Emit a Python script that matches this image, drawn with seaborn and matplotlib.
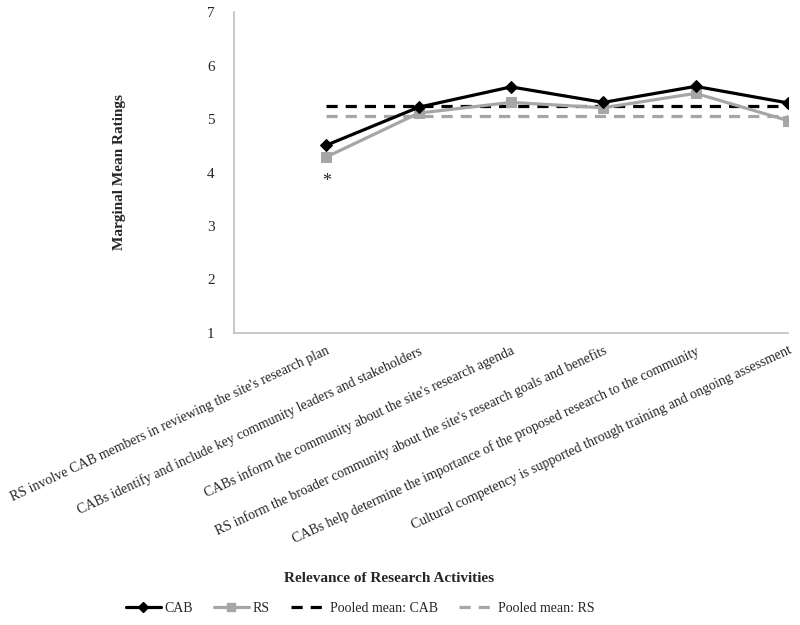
import numpy as np
import pandas as pd
import matplotlib
matplotlib.use("Agg")
import matplotlib.pyplot as plt
import seaborn as sns
from matplotlib.lines import Line2D

categories = [
    "RS involve CAB members in reviewing the site's research plan",
    "CABs identify and include key community leaders and stakeholders",
    "CABs inform the community about the site's research agenda",
    "RS inform the broader community about the site's research goals and benefits",
    "CABs help determine the importance of the proposed research to the community",
    "Cultural competency is supported through training and ongoing assessment",
]
cab_values = [4.51, 5.22, 5.60, 5.31, 5.61, 5.30]
rs_values = [4.29, 5.11, 5.31, 5.21, 5.48, 4.97]
pooled_cab = 5.25
pooled_rs = 5.06
y_ticks = [1, 2, 3, 4, 5, 6, 7]

sns.set_style("white")
plt.rcParams['font.family'] = ['Liberation Serif', 'DejaVu Serif']

fig = plt.figure(figsize=(8, 6.25), dpi=100)
ax = fig.add_axes([0.2925, 0.4672, 0.6925, 0.5136])

pos = np.arange(1, len(categories) + 1)
df = pd.DataFrame({"pos": pos, "CAB": cab_values, "RS": rs_values})

black = "#000000"
grey = "#A6A6A6"

ax.plot([pos[0], pos[-1]], [pooled_cab, pooled_cab], color=black, lw=2.3, ls=(0, (3.5, 2.5)), zorder=2)
ax.plot([pos[0], pos[-1]], [pooled_rs, pooled_rs], color=grey, lw=2.3, ls=(0, (3.5, 2.5)), zorder=2)

sns.lineplot(data=df, x="pos", y="RS", ax=ax, color=grey, lw=2.3, marker="s",
             markersize=7, markeredgecolor=grey, zorder=3)
sns.lineplot(data=df, x="pos", y="CAB", ax=ax, color=black, lw=2.3, marker="D",
             markersize=6, markeredgecolor=black, zorder=4)

ax.text(pos[0], rs_values[0] - 0.45, "*", ha="center", va="center", fontsize=13)

ax.set_xlim(0, len(categories))
ax.set_ylim(1, 7)
ax.set_yticks(y_ticks)
ax.set_yticklabels([str(t) for t in y_ticks], fontsize=11)
ax.set_xticks(pos)
ax.set_xticklabels(categories, rotation=25, ha="right", rotation_mode="anchor", fontsize=10)
ax.tick_params(axis="x", length=4, width=1, color="#BFBFBF", direction="out", pad=4)
ax.tick_params(axis="y", length=0, pad=14)
ax.set_xlabel("")
ax.set_ylabel("")

for s in ["top", "right"]:
    ax.spines[s].set_visible(False)
for s in ["left", "bottom"]:
    ax.spines[s].set_color("#BFBFBF")
    ax.spines[s].set_linewidth(1.2)

fig.text(0.15, 0.725, "Marginal Mean Ratings", rotation=90, ha="center", va="center",
         fontsize=11, fontweight="bold")
fig.text(0.486, 0.075, "Relevance of Research Activities", ha="center", va="center",
         fontsize=11, fontweight="bold")

handles = [
    Line2D([], [], color=black, lw=2.3, marker="D", markersize=5),
    Line2D([], [], color=grey, lw=2.3, marker="s", markersize=6),
    Line2D([], [], color=black, lw=2.3, ls=(0, (3.5, 2.5))),
    Line2D([], [], color=grey, lw=2.3, ls=(0, (3.5, 2.5))),
]
labels = ["CAB", "RS", "Pooled mean: CAB", "Pooled mean: RS"]
fig.legend(handles, labels, loc="center", bbox_to_anchor=(0.45, 0.027), ncol=4,
           frameon=False, fontsize=10, handlelength=2.5, columnspacing=1.5, handletextpad=0.3)

fig.savefig("out.png", dpi=100)
